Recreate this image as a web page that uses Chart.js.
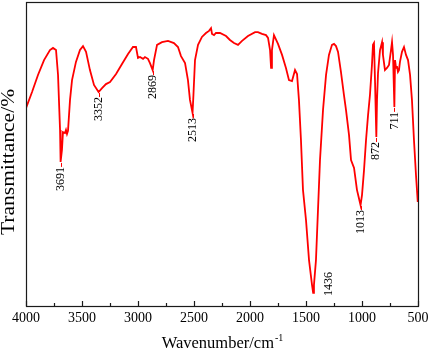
<!DOCTYPE html>
<html>
<head>
<meta charset="utf-8">
<title>FTIR spectrum</title>
<script src="https://cdn.jsdelivr.net/npm/chart.js@4.4.1/dist/chart.umd.min.js"></script>
<style>
    html, body { margin: 0; padding: 0; background: #fff; }
    #wrap { width: 429px; height: 351px; }
</style>
</head>
<body>
<div id="wrap"><canvas id="ir-chart" width="429" height="351"></canvas></div>
<script>
// Spectrum (wavenumber in cm-1, transmittance in %)
const wavenumbers = [4000,3946,3893,3839,3786,3759,3732,3714,3696,3691,
    3679,3670,3652,3643,3634,3625,3607,3589,3554,3518,
    3491,3464,3429,3393,3352,3321,3286,3250,3196,3143,
    3089,3045,3018,3000,2982,2955,2938,2911,2893,2869,
    2857,2830,2786,2732,2679,2643,2616,2580,2554,2536,
    2513,2505,2491,2464,2429,2393,2366,2348,2339,2321,
    2304,2268,2214,2179,2143,2107,2071,2018,1955,1929,
    1893,1857,1839,1821,1812,1804,1786,1750,1714,1679,
    1652,1625,1598,1580,1563,1545,1527,1500,1473,1446,
    1436,1429,1411,1393,1375,1348,1321,1295,1268,1250,
    1232,1214,1188,1161,1143,1116,1098,1071,1045,1013,
    1000,982,964,946,929,911,902,893,884,872,
    866,857,839,821,813,795,777,759,741,732,
    723,711,705,696,688,679,670,661,643,625,
    607,589,571,554,536,518,502];

const transmittance = [65.1,70.4,76.0,80.9,84.2,84.9,84.2,76.0,57.9,47.4,
    51.3,57.2,56.9,57.9,56.6,57.6,67.8,74.3,80.3,84.2,
    85.5,83.6,77.6,72.7,70.4,71.7,73.0,73.7,76.3,79.6,
    82.9,85.2,85.2,81.6,81.9,81.3,81.9,81.3,79.9,77.6,
    80.9,85.9,86.8,87.2,86.5,85.2,82.2,79.9,74.3,67.8,
    63.5,69.4,80.9,85.9,88.5,89.8,90.5,91.4,89.5,89.1,
    89.8,89.8,88.8,87.5,86.5,85.9,87.2,88.8,90.1,90.1,
    89.5,89.1,88.2,84.2,78.3,84.2,89.1,86.2,82.6,78.3,
    74.3,74.0,77.6,76.3,67.8,54.6,38.2,28.3,15.1,6.9,
    4.3,6.9,15.1,31.6,48.0,64.5,76.0,82.6,85.9,86.2,
    85.5,83.6,77.0,69.4,64.5,56.3,48.0,45.4,38.2,33.2,
    36.5,44.7,54.6,62.8,69.4,79.3,85.9,86.5,74.3,55.6,
    67.8,76.6,84.2,86.8,82.6,77.6,78.3,79.3,84.2,86.8,
    82.6,65.5,80.9,78.3,78.9,77.0,77.6,80.3,83.6,85.2,
    82.6,80.9,76.0,67.8,54.6,43.1,34.2];

// Labelled absorption bands
const peakWavenumbers = [3691, 3352, 2869, 2513, 1436, 1013, 872, 711];
const peakLabels = ['3691', '3352', '2869', '2513', '1436', '1013', '872', '711'];

// Axis ticks
const majorTicks = [4000, 3500, 3000, 2500, 2000, 1500, 1000, 500];
const minorTicks = [3750, 3250, 2750, 2250, 1750, 1250, 750];
const tickLabels = ['4000', '3500', '3000', '2500', '2000', '1500', '1000', '500'];

const SERIF = "'Liberation Serif', 'Times New Roman', serif";

// Frame, inward ticks, labels and titles are drawn by hand
const decorations = {
    id: 'decorations',
    afterDraw(chart) {
        const ctx = chart.ctx;
        const area = chart.chartArea;
        const xs = chart.scales.x;
        const ys = chart.scales.y;

        ctx.save();

        // box round the plot
        ctx.strokeStyle = '#1a1a1a';
        ctx.lineWidth = 1.2;
        ctx.strokeRect(area.left + 0.5, area.top + 0.5, area.right - area.left, area.bottom - area.top);

        // ticks pointing up from the bottom axis
        ctx.lineWidth = 1.2;
        majorTicks.forEach(v => {
            const x = Math.round(xs.getPixelForValue(v)) + 0.5;
            ctx.beginPath();
            ctx.moveTo(x, area.bottom);
            ctx.lineTo(x, area.bottom - 5);
            ctx.stroke();
        });
        minorTicks.forEach(v => {
            const x = Math.round(xs.getPixelForValue(v)) + 0.5;
            ctx.beginPath();
            ctx.moveTo(x, area.bottom);
            ctx.lineTo(x, area.bottom - 3);
            ctx.stroke();
        });

        // tick labels
        ctx.fillStyle = '#000';
        ctx.font = '14px ' + SERIF;
        ctx.textAlign = 'center';
        ctx.textBaseline = 'middle';
        majorTicks.forEach((v, i) => {
            ctx.fillText(tickLabels[i], xs.getPixelForValue(v), area.bottom + 12.5);
        });

        // x title with superscript
        const main = 'Wavenumber/cm';
        const sup = '-1';
        ctx.font = '16.5px ' + SERIF;
        const wMain = ctx.measureText(main).width;
        ctx.font = '10px ' + SERIF;
        const wSup = ctx.measureText(sup).width;
        const startX = (area.left + area.right) / 2 - (wMain + wSup) / 2;
        ctx.textAlign = 'left';
        ctx.textBaseline = 'alphabetic';
        ctx.font = '16.5px ' + SERIF;
        ctx.fillText(main, startX, 348);
        ctx.font = '10px ' + SERIF;
        ctx.fillText(sup, startX + wMain + 1, 341);

        // y title, squeezed sideways like the original
        ctx.save();
        ctx.translate(9, (area.top + area.bottom) / 2 + 8);
        ctx.scale(0.83, 1);
        ctx.rotate(-Math.PI / 2);
        ctx.font = '21.5px ' + SERIF;
        ctx.textAlign = 'center';
        ctx.textBaseline = 'middle';
        ctx.fillText('Transmittance/%', 0, 0);
        ctx.restore();

        // band labels under each dip, reading upwards
        ctx.font = '12px ' + SERIF;
        peakWavenumbers.forEach((wn, i) => {
            const idx = wavenumbers.indexOf(wn);
            const x = xs.getPixelForValue(wn);
            const y = ys.getPixelForValue(transmittance[idx]);
            const textLen = ctx.measureText(peakLabels[i]).width;

            let lx = x;
            let top = y + 5;
            if (top + textLen > area.bottom - 2) {
                // no room below: put it beside the dip
                lx = x + 16;
                top = y + 3 - textLen;
            } else {
                ctx.strokeStyle = '#ff0000';
                ctx.lineWidth = 1;
                ctx.beginPath();
                ctx.moveTo(Math.round(x) + 0.5, y + 1);
                ctx.lineTo(Math.round(x) + 0.5, y + 5);
                ctx.stroke();
            }

            ctx.save();
            ctx.translate(lx, top);
            ctx.rotate(-Math.PI / 2);
            ctx.textAlign = 'right';
            ctx.textBaseline = 'middle';
            ctx.fillStyle = '#000';
            ctx.fillText(peakLabels[i], 0, 0);
            ctx.restore();
        });

        ctx.restore();
    }
};

document.addEventListener('DOMContentLoaded', function() {
    const points = wavenumbers.map((wn, i) => ({ x: wn, y: transmittance[i] }));

    new Chart(document.getElementById('ir-chart'), {
        type: 'line',
        data: {
            datasets: [{
                data: points,
                borderColor: '#ff0000',
                borderWidth: 1.8,
                pointRadius: 0,
                tension: 0,
                fill: false
            }]
        },
        options: {
            responsive: false,
            animation: false,
            layout: {
                padding: { top: 2, right: 11, left: 0, bottom: 0 }
            },
            plugins: {
                legend: { display: false },
                tooltip: { enabled: false }
            },
            scales: {
                x: {
                    type: 'linear',
                    reverse: true,
                    min: 500,
                    max: 4000,
                    ticks: { display: false },
                    grid: { display: false, drawTicks: false },
                    border: { display: false },
                    afterFit: s => { s.height = 45; }
                },
                y: {
                    min: 0,
                    max: 100,
                    ticks: { display: false },
                    grid: { display: false, drawTicks: false },
                    border: { display: false },
                    afterFit: s => { s.width = 26; }
                }
            }
        },
        plugins: [decorations]
    });
});
</script>
</body>
</html>
